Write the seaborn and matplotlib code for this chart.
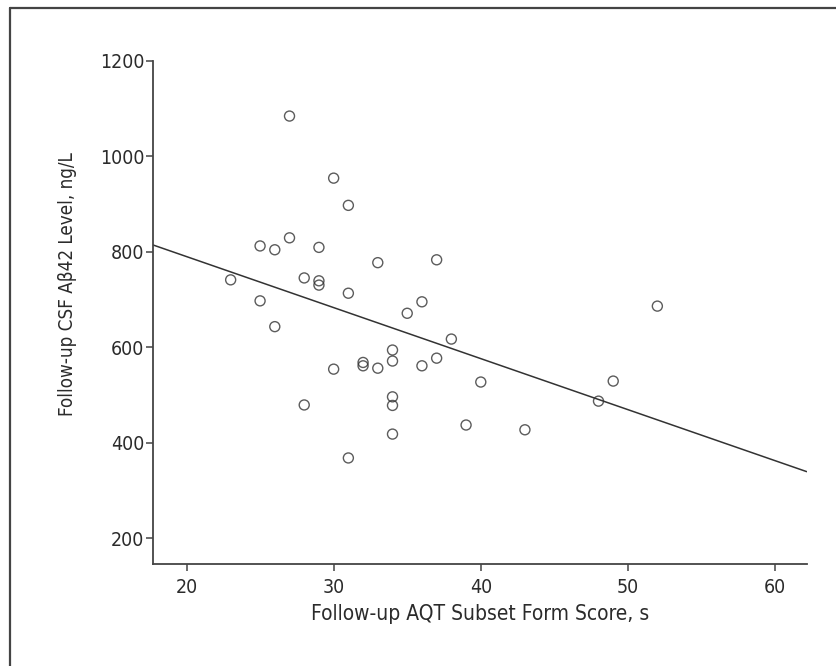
import matplotlib
matplotlib.use("Agg")
import matplotlib.pyplot as plt
from matplotlib.lines import Line2D
from matplotlib import font_manager
import seaborn as sns
import pandas as pd

# Follow-up AQT subset form score (s) and CSF Aβ42 level (ng/L) per participant
aqt_score = [27, 30, 31, 27, 25, 26, 29, 33, 37, 23, 28, 29, 29, 31, 25, 36, 35, 26, 38,
             34, 32, 32, 34, 30, 33, 36, 37, 40, 49, 48, 52, 28, 34, 34, 39, 43, 34, 31]
abeta42 = [1084, 954, 897, 829, 812, 804, 809, 777, 783, 741, 745, 739, 730, 713, 697, 695,
           671, 643, 617, 594, 568, 561, 571, 554, 556, 561, 577, 527, 529, 487, 686, 479,
           496, 478, 437, 427, 418, 368]

x_ticks = [20, 30, 40, 50, 60]
y_ticks = [200, 400, 600, 800, 1000, 1200]

df = pd.DataFrame({"aqt": aqt_score, "abeta": abeta42})

sns.set_style("white")

# Prefer a narrow sans face when one is available
condensed = [f for f in font_manager.fontManager.ttflist
             if f.stretch in ("condensed", "semi-condensed", "extra-condensed")
             or "Narrow" in f.name or "Condensed" in f.name]
if condensed:
    plt.rcParams["font.family"] = [condensed[0].name, "DejaVu Sans"]
    plt.rcParams["font.stretch"] = condensed[0].stretch
    xlabel_size, ylabel_size, tick_size = 15, 13.5, 14
else:
    plt.rcParams["font.family"] = ["Liberation Sans", "DejaVu Sans"]
    xlabel_size, ylabel_size, tick_size = 13.5, 12, 12.5

ink = "#2b2b2b"
fig = plt.figure(figsize=(8.37, 6.66), dpi=100)
ax = fig.add_axes([0.1824, 0.1532, 0.7814, 0.7557])

xlim = (17.7, 62.15)
ylim = (146, 1200)
ax.set_xlim(*xlim)
ax.set_ylim(*ylim)

sns.regplot(data=df, x="aqt", y="abeta", ax=ax, ci=None, truncate=False,
            scatter_kws=dict(s=52, facecolors="none", edgecolors="#333333", linewidths=1.0,
                             zorder=3),
            line_kws=dict(color="#333333", lw=1.1, zorder=2))

ax.set_xlim(*xlim)
ax.set_ylim(*ylim)
ax.set_xticks(x_ticks)
ax.set_yticks(y_ticks)
ax.set_xticklabels([str(v) for v in x_ticks])
ax.set_yticklabels([str(v) for v in y_ticks])

for side in ["top", "right"]:
    ax.spines[side].set_visible(False)
for side in ["left", "bottom"]:
    ax.spines[side].set_color("#444444")
    ax.spines[side].set_linewidth(1.3)

ax.tick_params(axis="both", direction="out", length=5, width=1.1, color="#444444",
               labelsize=tick_size, labelcolor=ink, left=True, bottom=True)
ax.tick_params(axis="x", pad=5)
ax.tick_params(axis="y", pad=1)

ax.set_xlabel("Follow-up AQT Subset Form Score, s", fontsize=xlabel_size, color=ink, labelpad=5)
ax.set_ylabel("Follow-up CSF Aβ42 Level, ng/L", fontsize=ylabel_size, color=ink)
ax.yaxis.set_label_coords(-0.115, 0.557)

# Outer frame around the figure (left and top edges)
fig.add_artist(Line2D([10 / 837, 10 / 837], [0, 1 - 8 / 666], transform=fig.transFigure,
                      color="#444444", lw=1.6))
fig.add_artist(Line2D([10 / 837, 1], [1 - 8 / 666, 1 - 8 / 666], transform=fig.transFigure,
                      color="#444444", lw=1.6))

fig.savefig("out.png", dpi=100)
